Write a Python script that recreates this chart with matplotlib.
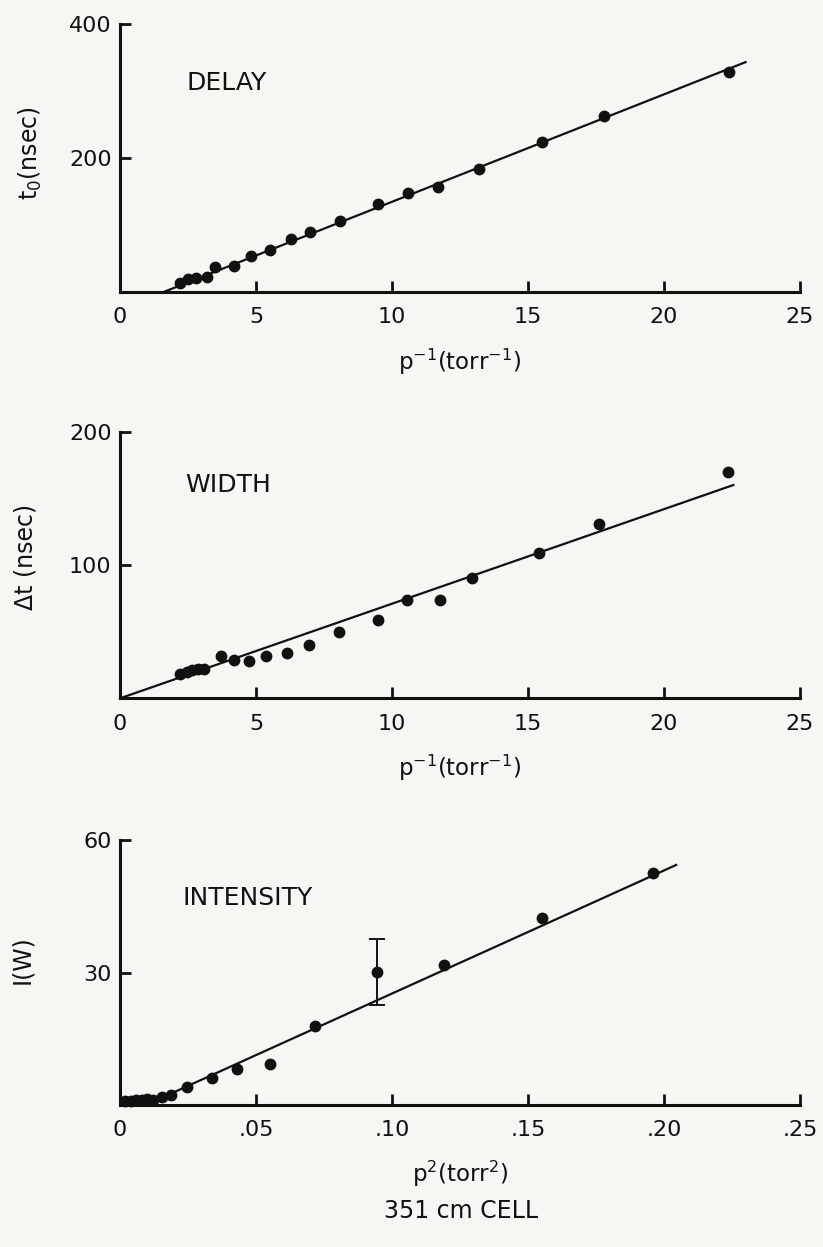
import matplotlib
matplotlib.use("Agg")
import matplotlib.pyplot as plt

# delay vs 1/p
delay_x = [2.2, 2.5, 2.8, 3.2, 3.5, 4.2, 4.8, 5.5, 6.3, 7.0, 8.1, 9.5,
           10.6, 11.7, 13.2, 15.5, 17.8, 22.4]
delay_y = [14, 20, 21, 23, 38, 39, 54, 62, 79, 89, 106, 131,
           148, 157, 183, 224, 263, 329]
delay_fit_x = [1.6, 23.0]
delay_fit_y = [0, 343]

# width vs 1/p
width_x = [2.2, 2.45, 2.65, 2.85, 3.1, 3.7, 4.2, 4.75, 5.35, 6.15, 6.95,
           8.05, 9.5, 10.55, 11.75, 12.95, 15.4, 17.6, 22.35]
width_y = [18, 20, 21, 22, 22, 32, 29, 28, 32, 34, 40,
           50, 59, 74, 74, 90, 109, 131, 170]
width_fit_x = [0, 22.55]
width_fit_y = [0, 160]

# intensity vs p^2
inten_x = [0.002, 0.004, 0.006, 0.008, 0.010, 0.012, 0.0153, 0.0189,
           0.0247, 0.0338, 0.043, 0.0552, 0.0718, 0.0944, 0.119, 0.155, 0.196]
inten_y = [1.0, 1.0, 1.1, 1.2, 1.3, 1.2, 1.7, 2.3,
           4.0, 6.0, 8.1, 9.3, 18.0, 30.1, 31.7, 42.3, 52.5]
inten_err_x = [0.0944]
inten_err_y = [30.1]
inten_err = [7.5]
inten_fit_x = [0.012, 0.2045]
inten_fit_y = [0.7, 54.4]

xticks_p = [0, 5, 10, 15, 20, 25]
xticks_p2 = [0, 0.05, 0.10, 0.15, 0.20, 0.25]
xticklabels_p2 = ["0", ".05", ".10", ".15", ".20", ".25"]

bg = "#f6f6f3"
ink = "#111111"

fig = plt.figure(figsize=(8.23, 12.47), dpi=100, facecolor=bg)
plt.rcParams["font.family"] = ["DejaVu Sans"]

ax1 = fig.add_axes([0.1458, 0.7658, 0.8262, 0.2150])
ax2 = fig.add_axes([0.1458, 0.4400, 0.8262, 0.2138])
ax3 = fig.add_axes([0.1458, 0.1139, 0.8262, 0.2123])


def style(ax, xlim, ylim, yticks, xticks, xticklabels=None):
    ax.set_facecolor(bg)
    ax.set_xlim(*xlim)
    ax.set_ylim(*ylim)
    ax.spines["top"].set_visible(False)
    ax.spines["right"].set_visible(False)
    for s in ("left", "bottom"):
        ax.spines[s].set_linewidth(2.2)
        ax.spines[s].set_color(ink)
    ax.set_yticks(yticks)
    ax.set_xticks(xticks)
    if xticklabels is not None:
        ax.set_xticklabels(xticklabels)
    ax.tick_params(direction="in", length=8, width=2, colors=ink,
                   labelsize=16)
    ax.tick_params(axis="x", pad=11)
    ax.tick_params(axis="y", pad=6)


mk = dict(marker="o", ms=7.5, color=ink, ls="none", clip_on=False)

ax1.plot(delay_fit_x, delay_fit_y, color=ink, lw=1.6, clip_on=False)
ax1.plot(delay_x, delay_y, **mk)
style(ax1, (0, 25), (0, 400), [200, 400], xticks_p)
ax1.text(2.45, 312, "DELAY", fontsize=18, va="center", color=ink)
ax1.set_xlabel(r"p$^{-1}$(torr$^{-1}$)", fontsize=16.5, color=ink)
ax1.set_ylabel(r"t$_0$(nsec)", fontsize=17, color=ink)

ax2.plot(width_fit_x, width_fit_y, color=ink, lw=1.6, clip_on=False)
ax2.plot(width_x, width_y, **mk)
style(ax2, (0, 25), (0, 200), [100, 200], xticks_p)
ax2.text(2.4, 160, "WIDTH", fontsize=18, va="center", color=ink)
ax2.set_xlabel(r"p$^{-1}$(torr$^{-1}$)", fontsize=16.5, color=ink)
ax2.set_ylabel("Δt (nsec)", fontsize=17, color=ink)

ax3.plot(inten_fit_x, inten_fit_y, color=ink, lw=1.6, clip_on=False)
ax3.plot(inten_x, inten_y, **mk)
ax3.errorbar(inten_err_x, inten_err_y, yerr=inten_err, fmt="none",
             ecolor=ink, elinewidth=1.4, capsize=6, capthick=1.4)
style(ax3, (0, 0.25), (0, 60), [30, 60], xticks_p2, xticklabels_p2)
ax3.text(0.023, 47, "INTENSITY", fontsize=18, va="center", color=ink)
ax3.set_xlabel(r"p$^{2}$(torr$^{2}$)", fontsize=16.5, color=ink)
ax3.set_ylabel("I(W)", fontsize=17, color=ink)

for ax, xc, yc in ((ax1, -0.112, 0.52), (ax2, -0.122, 0.53),
                   (ax3, -0.126, 0.55)):
    ax.xaxis.set_label_coords(0.5, -0.205)
    ax.yaxis.set_label_coords(xc, yc)

fig.text(0.56, 0.029, "351 cm CELL", fontsize=17, ha="center",
         va="center", color=ink)

fig.savefig("out.png", dpi=100, facecolor=bg)
